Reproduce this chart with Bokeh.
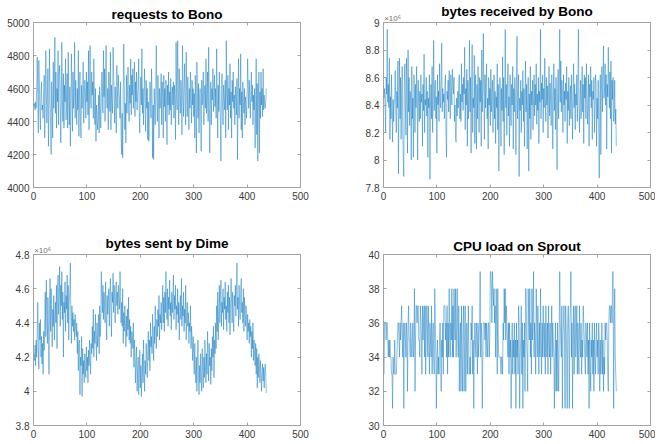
from bokeh.plotting import figure
from bokeh.layouts import column, row
from bokeh.models import (Range1d, FixedTicker, LinearAxis,
                          CustomJSTickFormatter, ColumnDataSource)
from bokeh.embed import file_html
from bokeh.resources import INLINE

# ---------------- data ----------------
requests_bono = [
    4490,4510,4470,4520,4480,4600,4790,4560,4330,4770,4620,4450,4350,4580,4640,4470,4500,4420,4560,4680,
    4300,4480,4830,4610,4390,4550,4720,4250,4480,4840,4560,4370,4200,4640,4510,4300,4760,4480,4620,4910,
    4450,4700,4360,4600,4520,4830,4380,4680,4740,4600,4270,4480,4880,4550,4400,4690,4360,4620,4520,4780,
    4410,4560,4690,4360,4820,4530,4380,4610,4250,4470,4810,4600,4340,4700,4480,4550,4880,4420,4650,4520,
    4380,4600,4470,4830,4310,4560,4700,4400,4300,4620,4480,4540,4760,4390,4510,4650,4580,4420,4700,4520,
    4640,4440,4830,4350,4600,4860,4520,4480,4700,4560,4640,4420,4780,4530,4380,4600,4280,4500,4450,4350,
    4420,4560,4330,4610,4480,4360,4540,4700,4600,4450,4830,4550,4720,4400,4650,4860,4520,4480,4600,4350,
    4700,4580,4460,4820,4350,4620,4530,4450,4850,4700,4560,4390,4610,4520,4330,4740,4600,4480,4680,4580,
    4530,4420,4640,4310,4200,4450,4180,4580,4870,4620,4350,4510,4270,4680,4450,4560,4730,4490,4400,4620,
    4510,4780,4440,4680,4560,4720,4480,4600,4760,4430,4640,4520,4700,4470,4560,4600,4780,4460,4330,4550,
    4670,4500,4840,4450,4600,4380,4560,4720,4510,4340,4650,4480,4600,4290,4520,4280,4460,4640,4580,4420,
    4720,4560,4180,4500,4170,4600,4470,4380,4630,4860,4520,4400,4680,4550,4300,4600,4480,4520,4690,4380,
    4640,4550,4300,4680,4490,4600,4400,4650,4540,4260,4620,4500,4700,4440,4580,4470,4660,4380,4550,4610,
    4500,4640,4420,4620,4540,4290,4880,4560,4470,4890,4600,4380,4720,4550,4450,4650,4570,4320,4860,4600,
    4430,4600,4750,4500,4380,4820,4560,4430,4670,4520,4350,4600,4480,4700,4550,4390,4650,4500,4600,4430,
    4570,4300,4680,4520,4210,4760,4580,4420,4630,4330,4550,4600,4470,4220,4650,4500,4580,4700,4380,4560,
    4620,4480,4780,4450,4560,4700,4400,4850,4580,4210,4500,4640,4380,4600,4530,4720,4460,4560,4680,4490,
    4600,4420,4840,4550,4300,4620,4460,4700,4530,4400,4160,4580,4690,4500,4380,4620,4540,4470,4650,4300,
    4890,4560,4470,4680,4350,4600,4500,4750,4420,4580,4300,4650,4520,4700,4480,4560,4380,4610,4520,4440,
    4660,4170,4540,4780,4420,4600,4500,4810,4350,4580,4300,4640,4520,4450,4600,4380,4550,4500,4420,4560,
    4780,4610,4480,4650,4540,4420,4600,4700,4520,4620,4380,4560,4470,4600,4240,4500,4780,4320,4630,4160,
    4500,4700,4210,4580,4420,4700,4500,4600,4430,4720,4470,4560,4500,4480,4520,4600,
]

# bytes received by Bono, in units of 1e6
bytes_recv_bono = [
    8.45,8.52,8.38,8.20,8.60,8.48,8.95,8.42,8.55,8.38,8.74,8.15,8.46,8.30,8.62,8.38,8.13,8.44,8.28,8.40,
    8.46,8.65,8.35,8.20,8.50,8.38,8.72,7.90,8.45,8.74,8.30,8.60,8.15,8.48,8.68,8.25,8.00,7.88,8.55,8.70,
    8.40,8.18,8.74,8.50,8.05,8.80,8.35,8.60,8.25,8.50,8.42,8.00,8.68,8.30,8.45,8.02,8.62,8.48,8.20,8.55,
    8.38,8.68,8.45,8.00,8.58,8.40,8.28,8.50,8.30,8.62,8.42,8.48,8.10,8.55,8.36,8.77,8.20,8.44,8.40,8.60,
    8.32,8.50,8.02,8.45,8.38,8.62,7.86,8.40,8.55,8.30,8.68,8.20,8.45,8.87,8.36,8.50,8.58,8.30,8.46,8.05,
    8.62,8.40,8.50,8.28,8.70,8.45,8.38,8.60,8.85,8.35,8.52,8.42,8.48,8.30,8.56,8.62,8.20,8.02,8.50,8.44,
    8.58,8.35,8.65,8.48,8.30,8.62,8.52,8.40,8.66,8.55,8.48,8.60,8.28,8.40,8.15,8.13,8.45,8.32,8.50,8.38,
    8.56,8.62,8.30,8.48,8.28,8.70,8.42,8.55,8.36,8.60,8.48,8.82,8.22,8.52,8.40,8.66,8.10,8.58,8.30,8.45,
    8.87,8.35,8.60,8.05,8.50,8.84,8.20,8.45,8.38,8.76,8.12,8.62,8.40,8.08,8.55,8.30,8.68,8.48,8.20,8.60,
    8.42,8.58,8.10,8.80,8.35,8.52,8.92,8.46,8.15,8.62,8.38,8.55,8.70,8.30,8.45,8.08,8.60,8.40,8.52,8.25,
    8.66,8.35,8.48,8.58,8.20,8.42,8.62,8.30,8.50,8.12,8.46,8.38,8.70,8.22,8.55,7.92,8.40,8.60,8.48,8.10,
    8.52,8.36,8.75,8.28,8.60,8.04,8.45,8.95,8.38,8.55,8.18,8.50,8.70,8.32,8.46,8.10,8.62,8.40,8.25,8.55,
    8.40,8.68,8.08,8.52,8.35,8.60,8.42,8.04,8.56,8.90,8.30,8.48,8.62,7.88,8.45,8.36,8.58,8.20,8.50,8.40,
    8.65,8.28,8.52,8.10,8.46,8.72,8.35,8.55,8.08,8.42,8.60,7.92,8.48,8.30,8.68,8.15,8.50,8.40,8.58,8.22,
    8.45,8.62,8.32,8.55,8.40,8.70,8.26,8.48,8.36,8.60,8.12,8.50,8.42,8.95,8.30,8.56,8.44,8.62,8.20,8.52,
    8.38,8.74,8.45,8.28,8.60,8.40,8.54,8.16,8.48,8.68,8.32,8.56,8.42,8.25,8.62,8.50,8.08,8.46,8.70,8.36,
    8.52,8.22,8.60,8.40,7.93,8.48,8.66,8.30,8.55,8.95,8.42,8.72,8.35,8.58,8.48,8.20,8.62,8.40,8.50,8.28,
    8.56,8.44,8.68,8.12,8.50,8.36,8.60,8.25,8.45,8.54,8.30,8.62,8.42,8.15,8.50,8.70,8.38,8.55,8.22,8.48,
    8.40,8.62,8.28,8.52,8.95,8.46,8.20,8.40,8.58,8.30,8.48,8.68,8.35,8.55,8.12,8.62,8.45,8.60,8.30,8.70,
    8.50,8.26,8.40,8.62,8.10,8.55,8.46,8.68,8.38,8.58,8.15,8.50,8.44,8.60,8.20,8.36,8.62,8.55,8.10,8.45,
    8.30,8.58,8.22,7.87,8.40,8.62,8.04,8.50,8.68,8.35,8.60,8.83,8.45,8.52,8.70,8.40,8.62,8.08,8.55,8.46,
    8.82,8.50,8.38,8.64,8.30,8.72,8.05,8.58,8.44,8.60,8.28,8.36,8.58,8.26,8.37,8.10,
]

# bytes sent by Dime, in units of 1e6
bytes_sent_dime = [
    4.22,4.18,4.27,4.15,4.30,4.20,4.36,4.52,4.25,4.13,4.40,4.30,4.42,4.20,4.32,4.16,4.28,4.10,4.35,4.24,
    4.40,4.58,4.32,4.65,4.45,4.28,4.55,4.38,4.10,4.50,4.66,4.35,4.60,4.42,4.26,4.48,4.38,4.56,4.30,4.45,
    4.52,4.40,4.62,4.25,4.58,4.68,4.45,4.55,4.73,4.38,4.62,4.50,4.70,4.42,4.58,4.20,4.52,4.46,4.64,4.35,
    4.56,4.48,4.68,4.40,4.62,4.30,4.52,4.58,4.75,4.44,4.28,4.50,4.38,4.46,4.35,4.42,4.30,4.45,4.38,4.32,
    4.40,4.22,4.35,4.12,4.28,4.30,3.98,4.20,4.15,4.32,3.97,4.25,4.10,4.18,4.05,4.22,4.14,4.08,4.26,4.12,
    4.20,4.05,4.24,4.15,4.30,4.18,4.10,4.28,4.22,4.38,4.25,4.48,4.20,4.35,4.28,4.45,4.30,4.18,4.40,4.26,
    4.34,4.45,4.22,4.50,4.32,4.40,4.70,4.55,4.46,4.62,4.42,4.58,4.50,4.40,4.64,4.48,4.30,4.56,4.45,4.52,
    4.60,4.38,4.55,4.66,4.48,4.32,4.58,4.52,4.69,4.46,4.62,4.55,4.40,4.60,4.64,4.50,4.58,4.45,4.62,4.54,
    4.48,4.70,4.56,4.40,4.52,4.38,4.60,4.28,4.46,4.35,4.50,4.40,4.26,4.44,4.32,4.48,4.36,4.55,4.30,4.42,
    4.28,4.38,4.20,4.35,4.32,4.25,4.40,4.14,4.30,4.22,4.05,4.18,4.26,4.00,4.12,4.20,3.98,4.10,4.24,4.02,
    4.15,3.97,4.08,4.22,4.05,4.30,4.12,4.00,4.18,4.10,4.28,4.20,4.08,4.25,4.35,4.18,4.30,4.12,4.40,4.26,
    4.32,4.22,4.45,4.30,4.18,4.38,4.28,4.50,4.35,4.25,4.42,4.32,4.48,4.38,4.56,4.30,4.45,4.40,4.52,4.36,
    4.48,4.62,4.40,4.55,4.35,4.58,4.46,4.70,4.50,4.42,4.60,4.38,4.55,4.48,4.65,4.44,4.52,4.36,4.58,4.46,
    4.54,4.68,4.42,4.56,4.48,4.62,4.36,4.50,4.45,4.60,4.40,4.52,4.30,4.48,4.56,4.42,4.66,4.38,4.50,4.44,
    4.58,4.35,4.48,4.40,4.62,4.30,4.45,4.52,4.38,4.46,4.28,4.40,4.35,4.50,4.25,4.38,4.30,4.18,4.32,4.22,
    4.10,4.28,4.15,4.05,4.20,4.00,4.18,4.30,4.08,3.98,4.15,4.05,4.22,4.10,4.00,4.25,4.12,4.02,4.20,4.08,
    4.30,4.14,4.05,4.22,4.10,4.35,4.18,4.06,4.28,4.15,4.20,4.04,4.25,4.12,4.32,4.20,4.38,4.08,4.30,4.22,
    4.40,4.25,4.50,4.35,4.58,4.30,4.45,4.62,4.40,4.55,4.65,4.38,4.52,4.46,4.60,4.36,4.55,4.48,4.64,4.42,
    4.50,4.35,4.58,4.46,4.62,4.40,4.55,4.33,4.48,4.66,4.52,4.40,4.58,4.45,4.35,4.56,4.50,4.62,4.44,4.58,
    4.75,4.48,4.55,4.38,4.62,4.50,4.42,4.58,4.66,4.46,4.52,4.40,4.60,4.35,4.55,4.45,4.38,4.50,4.42,4.30,
    4.45,4.35,4.40,4.28,4.42,4.32,4.38,4.20,4.35,4.25,4.40,4.18,4.30,4.22,4.15,4.28,4.10,4.25,4.02,4.20,
    4.08,4.22,4.15,4.05,4.18,4.12,4.00,4.10,4.16,4.06,4.14,4.02,4.12,4.16,4.08,3.99,
]

cpu_sprout = [
    33,36,36,36,35,36,36,35,34,35,34,35,34,34,33,33,31,34,33,33,
    35,33,33,33,34,35,36,36,35,34,36,35,36,37,35,34,36,31,35,36,
    35,34,36,35,32,36,37,35,35,34,36,35,34,35,36,34,35,38,32,35,
    37,37,36,37,37,35,35,34,37,36,35,33,37,35,36,37,34,37,33,35,
    37,36,34,37,35,33,36,35,34,37,33,35,36,34,33,38,36,34,31,34,
    35,33,34,33,35,36,34,32,35,34,36,33,37,37,37,35,36,34,37,33,
    36,34,38,35,34,36,35,38,34,37,34,38,36,35,38,34,36,38,35,34,
    37,32,35,36,32,37,34,32,36,37,32,35,37,32,34,36,33,35,37,33,
    33,34,33,36,35,37,33,35,31,34,36,35,34,36,35,33,36,34,35,36,
    39,34,36,35,31,34,36,36,36,35,36,34,36,35,34,36,36,34,35,39,
    39,38,36,39,38,37,38,36,37,34,38,36,33,38,35,34,34,34,34,33,
    34,34,33,36,35,38,36,38,35,37,36,35,34,36,33,36,34,35,31,34,
    36,33,35,34,36,33,35,31,36,34,35,33,37,36,31,34,35,37,33,36,
    31,35,34,36,32,38,38,35,34,32,38,36,35,38,34,36,33,38,35,36,
    39,34,36,35,33,38,36,34,37,35,33,36,34,38,35,33,36,34,37,35,
    34,36,33,37,35,34,36,33,37,35,34,36,33,35,37,34,36,35,34,31,
    34,36,32,35,32,36,34,32,35,39,36,35,34,37,31,35,36,37,35,31,
    37,36,34,31,36,37,35,31,36,37,39,34,36,31,35,37,33,36,37,34,
    35,37,33,36,34,33,37,35,34,36,33,35,34,37,36,35,34,33,36,35,
    34,36,33,35,31,36,34,32,35,34,36,33,35,32,36,34,33,35,36,34,
    35,33,36,35,32,35,33,34,36,33,35,32,34,33,36,35,36,36,35,33,
    32,36,37,37,36,37,37,36,39,39,31,36,38,34,33,32,
]

titles = ["requests to Bono", "bytes received by Bono", "bytes sent by Dime", "CPU load on Sprout"]
exponent_text = "\u00d710\u2076"
x_ticks = [0, 100, 200, 300, 400, 500]
y_ticks_req = [4000, 4200, 4400, 4600, 4800, 5000]
y_ticks_recv = [7.8, 8.0, 8.2, 8.4, 8.6, 8.8, 9.0]
y_ticks_sent = [3.8, 4.0, 4.2, 4.4, 4.6, 4.8]
y_ticks_cpu = [30, 32, 34, 36, 38, 40]

# ---------------- styling ----------------
FONT = "Liberation Sans"
BOX = "#a3a3a3"
TXT = "#3a3a3a"
LINE = "#0072BD"

fmt_code = "return (Math.round(tick*100)/100).toString();"


def marks_axis(ticks):
    ax = LinearAxis(ticker=FixedTicker(ticks=ticks),
                    formatter=CustomJSTickFormatter(code="return '';"))
    ax.axis_line_color = None
    ax.major_tick_line_color = BOX
    ax.major_tick_in = 3
    ax.major_tick_out = 0
    ax.minor_tick_line_color = None
    ax.major_label_text_color = None
    ax.major_label_text_font_size = "0px"
    ax.major_label_standoff = 0
    return ax


def text_axis(pos, text, size, color, bold, standoff):
    ax = LinearAxis(ticker=FixedTicker(ticks=[pos]), major_label_overrides={pos: text})
    ax.axis_line_color = None
    ax.major_tick_line_color = None
    ax.minor_tick_line_color = None
    ax.major_tick_in = 0
    ax.major_tick_out = 0
    ax.major_label_text_font = FONT
    ax.major_label_text_font_size = size
    ax.major_label_text_color = color
    ax.major_label_text_font_style = "bold" if bold else "normal"
    ax.major_label_standoff = standoff
    return ax


def make(title, values, yticks, w, h, mbl, mbr, mbt, mbb, exponent=False):
    p = figure(width=w, height=h, output_backend="svg", toolbar_location=None,
               x_range=Range1d(0, 500), y_range=Range1d(yticks[0], yticks[-1]),
               min_border_left=mbl, min_border_right=mbr,
               min_border_top=mbt, min_border_bottom=mbb,
               x_axis_location=None, y_axis_location=None)
    p.background_fill_color = "white"
    p.border_fill_color = "white"
    p.outline_line_color = BOX
    p.outline_line_width = 1
    p.xgrid.visible = False
    p.ygrid.visible = False

    for loc, is_x in (("below", True), ("left", False)):
        ax = LinearAxis(ticker=FixedTicker(ticks=x_ticks if is_x else yticks),
                        formatter=CustomJSTickFormatter(code=fmt_code))
        ax.axis_line_color = None
        ax.major_tick_line_color = BOX
        ax.major_tick_in = 3
        ax.major_tick_out = 0
        ax.minor_tick_line_color = None
        ax.major_label_text_font = FONT
        ax.major_label_text_color = TXT
        ax.major_label_text_font_size = "10px"
        ax.major_label_standoff = 4
        p.add_layout(ax, loc)

    p.add_layout(marks_axis(yticks), "right")
    p.add_layout(marks_axis(x_ticks), "above")
    if exponent:
        p.add_layout(text_axis(17, exponent_text, "8px", "#707070", False, 0), "above")
        p.add_layout(text_axis(250, title, "13.5px", "#000000", True, -8), "above")
    else:
        p.add_layout(text_axis(250, title, "13.5px", "#000000", True, 1), "above")

    src = ColumnDataSource(dict(x=list(range(1, len(values) + 1)), y=values))
    p.line("x", "y", source=src, line_color=LINE, line_width=0.45)
    return p


p1 = make(titles[0], requests_bono, y_ticks_req, 340, 222, 33, 40, 17, 35)
p2 = make(titles[1], bytes_recv_bono, y_ticks_recv, 315, 222, 43, 5, 17, 35, exponent=True)
p3 = make(titles[2], bytes_sent_dime, y_ticks_sent, 340, 220, 33, 40, 32, 17, exponent=True)
p4 = make(titles[3], cpu_sprout, y_ticks_cpu, 315, 220, 43, 5, 32, 17)

layout = column(row(p1, p2), row(p3, p4))

open("out.html", "w").write(file_html(layout, INLINE))
